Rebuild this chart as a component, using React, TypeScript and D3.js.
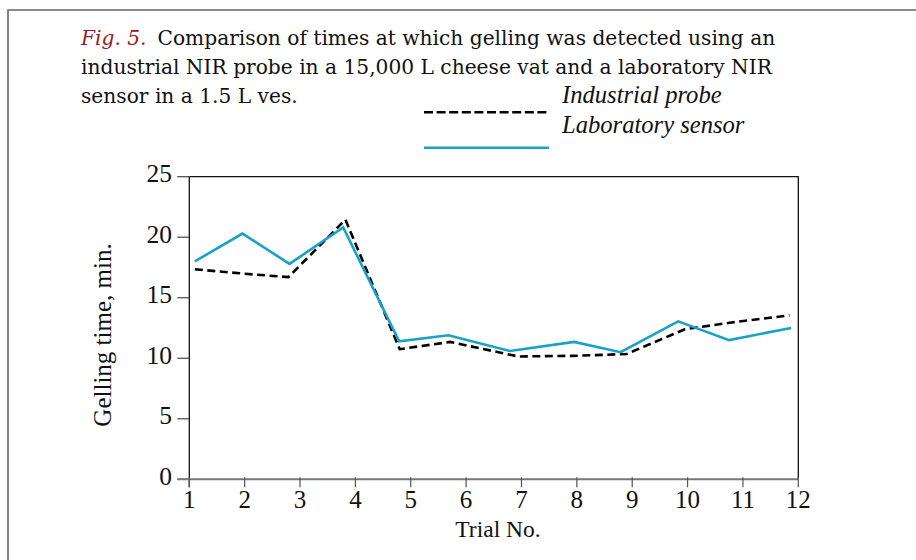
import React, { useEffect, useRef } from "react"
import * as d3 from "d3"

// trial position (x) and gelling time (min)
const labTrial = [1.1, 1.96, 2.81, 3.78, 4.79, 5.68, 6.79, 7.95, 8.79, 9.83, 10.75, 11.87]
const labTime = [18.0, 20.3, 17.8, 20.8, 11.4, 11.9, 10.6, 11.35, 10.5, 13.05, 11.5, 12.5]
const indTrial = [1.1, 1.96, 2.79, 3.82, 4.8, 5.71, 6.94, 7.93, 8.9, 9.95, 10.79, 11.84]
const indTime = [17.35, 17.0, 16.7, 21.45, 10.75, 11.35, 10.15, 10.2, 10.35, 12.4, 12.95, 13.55]

const xTicks = [1, 2, 3, 4, 5, 6, 7, 8, 9, 10, 11, 12]
const yTicks = [0, 5, 10, 15, 20, 25]

const titleLines = [
    "Comparison of times at which gelling was detected using an",
    "industrial NIR probe in a 15,000 L cheese vat and a laboratory NIR",
    "sensor in a 1.5 L ves.",
]
const legendLabels = ["Industrial probe", "Laboratory sensor"]

const FONT = "'Liberation Serif', 'Times New Roman', serif"
const TITLE_FONT = "'DejaVu Serif', serif"
const BLUE = "#17a3c8"

export default function App() {
    const ref = useRef<SVGSVGElement>(null)

    useEffect(() => {
        const svg = d3.select(ref.current)
        svg.selectAll("*").remove()

        const left = 189.3, right = 798.3, top = 176.7, bottom = 479.3
        const x = d3.scaleLinear().domain([1, 12]).range([left, right])
        const y = d3.scaleLinear().domain([0, 25]).range([bottom, top])

        // outer frame
        svg.append("path")
            .attr("d", "M8,560 L8,10 L916,10")
            .attr("fill", "none")
            .attr("stroke", "#666")
            .attr("stroke-width", 1.6)

        // caption
        const cap = svg.append("g").attr("font-family", TITLE_FONT).attr("font-size", 20.2).attr("fill", "#111")
        titleLines.forEach((t, i) => {
            const txt = cap.append("text").attr("x", 81).attr("y", 45 + i * 29)
            if (i == 0) {
                txt.append("tspan").attr("font-style", "italic").attr("fill", "#9a1b1f").text("Fig. 5.")
                txt.append("tspan").attr("dx", 11).text(t)
            } else {
                txt.text(t)
            }
        })

        // legend
        const lg = svg.append("g")
        lg.append("line").attr("x1", 424).attr("x2", 549).attr("y1", 112.3).attr("y2", 112.3)
            .attr("stroke", "#000").attr("stroke-width", 2.6).attr("stroke-dasharray", "9,3.6")
        lg.append("line").attr("x1", 424).attr("x2", 549).attr("y1", 147.7).attr("y2", 147.7)
            .attr("stroke", BLUE).attr("stroke-width", 2.6)
        legendLabels.forEach((t, i) => {
            lg.append("text").attr("x", 562).attr("y", 103.3 + i * 29.4)
                .attr("font-family", FONT).attr("font-size", 24.6).attr("font-style", "italic")
                .attr("fill", "#111").text(t)
        })

        // frame top / right
        svg.append("path")
            .attr("d", `M${left},${top} L${right},${top} L${right},${bottom}`)
            .attr("fill", "none").attr("stroke", "#111").attr("stroke-width", 1.3)

        // y axis
        const ya = svg.append("g")
        ya.append("line").attr("x1", left).attr("x2", left).attr("y1", top).attr("y2", bottom + 8)
            .attr("stroke", "#111").attr("stroke-width", 1.3)
        yTicks.forEach(v => {
            ya.append("line").attr("x1", left - 12).attr("x2", left).attr("y1", y(v)).attr("y2", y(v))
                .attr("stroke", "#444").attr("stroke-width", 1.2)
            ya.append("text").attr("x", 172).attr("y", y(v) + 5.5).attr("text-anchor", "end")
                .attr("font-family", FONT).attr("font-size", 25.5).attr("fill", "#111").text(v)
        })

        // x axis
        const xa = svg.append("g")
        xa.append("line").attr("x1", left - 12).attr("x2", right).attr("y1", bottom).attr("y2", bottom)
            .attr("stroke", "#777").attr("stroke-width", 2)
        xTicks.forEach(v => {
            xa.append("line").attr("x1", x(v)).attr("x2", x(v)).attr("y1", bottom - 2).attr("y2", bottom + 8)
                .attr("stroke", "#555").attr("stroke-width", 1.2)
            xa.append("text").attr("x", x(v)).attr("y", 507.5).attr("text-anchor", "middle")
                .attr("font-family", FONT).attr("font-size", 25).attr("fill", "#111").text(v)
        })

        svg.append("text").attr("x", 498).attr("y", 537).attr("text-anchor", "middle")
            .attr("font-family", FONT).attr("font-size", 23.5).attr("fill", "#111").text("Trial No.")
        svg.append("text").attr("transform", "translate(111,335) rotate(-90)").attr("text-anchor", "middle")
            .attr("font-family", FONT).attr("font-size", 25).attr("fill", "#111").text("Gelling time, min.")

        // series
        const line = d3.line<[number, number]>().x(d => x(d[0])).y(d => y(d[1]))
        const indData = indTrial.map((t, i) => [t, indTime[i]] as [number, number])
        const labData = labTrial.map((t, i) => [t, labTime[i]] as [number, number])

        svg.append("path").attr("d", line(indData)).attr("fill", "none")
            .attr("stroke", "#000").attr("stroke-width", 2.6).attr("stroke-dasharray", "8,4.5")
        svg.append("path").attr("d", line(labData)).attr("fill", "none")
            .attr("stroke", BLUE).attr("stroke-width", 2.6).attr("stroke-linejoin", "miter")
    }, [])

    return (
        <svg ref={ref} width={916} height={560}
            style={{ position: "absolute", left: 0, top: 0, background: "#fff" }} />
    )
}
